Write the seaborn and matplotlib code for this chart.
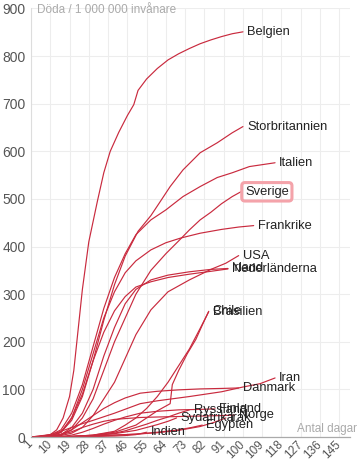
import matplotlib
matplotlib.use("Agg")
import matplotlib.pyplot as plt
import seaborn as sns
import pandas as pd

# ---- data (days since start, deaths per million) ----
belgien_d = [1, 5, 10, 13, 16, 19, 21, 23, 25, 28, 32, 35, 38, 42, 46, 49, 51, 55, 60, 65, 70, 75, 80, 85, 90, 95, 100]
belgien_v = [0, 1, 5, 15, 40, 85, 140, 225, 310, 410, 495, 555, 600, 640, 675, 698, 728, 752, 774, 792, 805, 816, 826, 834, 841, 847, 851]
uk_d = [1, 10, 15, 20, 25, 30, 35, 40, 45, 51, 57, 61, 66, 72, 80, 88, 95, 100]
uk_v = [0, 2, 10, 35, 85, 160, 245, 320, 380, 432, 465, 492, 526, 561, 597, 618, 639, 652]
italien_d = [1, 10, 15, 20, 25, 30, 35, 40, 45, 50, 57, 64, 72, 80, 88, 95, 103, 115]
italien_v = [0, 4, 15, 50, 110, 190, 270, 335, 385, 425, 456, 477, 505, 526, 545, 555, 568, 576]
sverige_d = [1, 10, 15, 20, 25, 30, 35, 40, 45, 50, 57, 64, 70, 75, 80, 85, 90, 95, 99]
sverige_v = [0, 1, 4, 15, 40, 80, 140, 200, 250, 300, 350, 385, 412, 435, 456, 472, 490, 505, 515]
frankrike_d = [1, 10, 15, 20, 25, 30, 35, 40, 45, 50, 57, 64, 71, 80, 90, 98, 105]
frankrike_v = [0, 2, 10, 40, 100, 175, 250, 305, 345, 370, 393, 408, 418, 428, 436, 441, 444]
usa_d = [1, 10, 15, 20, 25, 30, 35, 40, 45, 50, 57, 65, 75, 85, 92, 98]
usa_v = [0, 1, 3, 8, 20, 45, 80, 115, 165, 215, 267, 305, 330, 352, 365, 381]
irland_d = [1, 10, 15, 20, 25, 30, 35, 40, 45, 50, 57, 65, 75, 85, 93]
irland_v = [0, 1, 5, 20, 50, 100, 170, 230, 280, 310, 330, 340, 347, 352, 354]
nl_d = [1, 10, 15, 20, 25, 30, 35, 40, 45, 50, 57, 65, 75, 85, 93]
nl_v = [0, 2, 10, 40, 90, 160, 220, 265, 295, 315, 326, 335, 342, 348, 353]
chile_d = [1, 20, 30, 40, 50, 55, 60, 66, 67, 70, 74, 78, 81, 84]
chile_v = [0, 1, 4, 10, 25, 40, 55, 70, 110, 140, 175, 205, 235, 264]
brasil_d = [1, 20, 30, 40, 45, 50, 55, 60, 65, 70, 75, 80, 84]
brasil_v = [0, 1, 4, 12, 25, 40, 60, 85, 115, 150, 185, 228, 263]
iran_d = [1, 10, 15, 20, 25, 30, 40, 52, 60, 75, 90, 100, 108, 115]
iran_v = [0, 5, 12, 20, 28, 35, 50, 70, 76, 85, 95, 105, 112, 124]
danmark_d = [1, 10, 15, 20, 25, 30, 35, 40, 45, 52, 60, 70, 80, 90, 98]
danmark_v = [0, 2, 6, 15, 30, 45, 60, 72, 82, 92, 96, 99, 101, 102, 103]
finland_d = [1, 15, 20, 25, 30, 35, 40, 45, 52, 60, 70, 80, 87]
finland_v = [0, 1, 4, 10, 18, 27, 35, 42, 50, 54, 57, 58, 59]
ryssland_d = [1, 20, 30, 40, 45, 50, 55, 60, 65, 70, 75]
ryssland_v = [0, 1, 3, 8, 13, 20, 27, 35, 42, 50, 57]
norge_d = [1, 10, 15, 20, 25, 30, 35, 40, 52, 60, 70, 80, 90, 96]
norge_v = [0, 2, 5, 11, 20, 27, 33, 37, 41, 42, 43, 44, 45, 46]
sydafrika_d = [1, 20, 30, 40, 50, 55, 60, 65, 69]
sydafrika_v = [0, 1, 3, 7, 14, 20, 26, 33, 40]
irak_d = [1, 20, 30, 40, 50, 60, 70, 80, 86, 92]
irak_v = [0, 1, 2, 4, 6, 9, 14, 22, 30, 40]
egypten_d = [1, 20, 30, 40, 50, 60, 70, 76, 81]
egypten_v = [0, 1, 2, 4, 6, 10, 15, 20, 25]
indien_d = [1, 20, 30, 40, 45, 50, 55]
indien_v = [0, 0.5, 1, 2, 3, 5, 10]

series = [
    ("Belgien", belgien_d, belgien_v),
    ("Storbritannien", uk_d, uk_v),
    ("Italien", italien_d, italien_v),
    ("Sverige", sverige_d, sverige_v),
    ("Frankrike", frankrike_d, frankrike_v),
    ("USA", usa_d, usa_v),
    ("Irland", irland_d, irland_v),
    ("Nederländerna", nl_d, nl_v),
    ("Chile", chile_d, chile_v),
    ("Brasilien", brasil_d, brasil_v),
    ("Iran", iran_d, iran_v),
    ("Danmark", danmark_d, danmark_v),
    ("Finland", finland_d, finland_v),
    ("Ryssland", ryssland_d, ryssland_v),
    ("Norge", norge_d, norge_v),
    ("Sydafrika", sydafrika_d, sydafrika_v),
    ("Irak", irak_d, irak_v),
    ("Egypten", egypten_d, egypten_v),
    ("Indien", indien_d, indien_v),
]

x_ticks = list(range(1, 150, 9))
y_ticks = list(range(0, 901, 100))

rows = []
for name, d, v in series:
    for dd, vv in zip(d, v):
        rows.append({"land": name, "dag": dd, "doda": vv})
df = pd.DataFrame(rows)

sns.set_theme(style="whitegrid")
plt.rcParams["font.family"] = ["Liberation Sans", "DejaVu Sans"]

fig = plt.figure(figsize=(3.59, 4.65), dpi=100)
ax = fig.add_axes([31 / 359, 1 - 437 / 465, (350 - 31) / 359, (437 - 8.5) / 465])

red = "#c92a3e"
names = [s[0] for s in series]
sns.lineplot(data=df, x="dag", y="doda", hue="land", hue_order=names,
             palette=[red] * len(names), legend=False, linewidth=0.85,
             estimator=None, sort=False, ax=ax)

ax.set_xlim(1, 150)
ax.set_ylim(0, 900)
ax.set_xticks(x_ticks)
ax.set_yticks(y_ticks)
ax.set_xticklabels([str(t) for t in x_ticks], rotation=45, ha="right",
                   va="center", rotation_mode="anchor", fontsize=8.5, color="#555555")
ax.set_yticklabels([str(t) for t in y_ticks], fontsize=10, color="#555555")
ax.tick_params(axis="x", pad=4, length=0)
ax.tick_params(axis="y", pad=4, length=0)
ax.set_xlabel("")
ax.set_ylabel("")
ax.grid(True, color="#ededed", linewidth=0.8)
ax.set_facecolor("white")
for s in ["top", "right"]:
    ax.spines[s].set_visible(False)
ax.spines["left"].set_color("#dddddd")
ax.spines["left"].set_linewidth(0.8)
ax.spines["bottom"].set_color("#aaaaaa")
ax.spines["bottom"].set_linewidth(0.9)

for name, d, v in series:
    kw = {}
    if name == "Sverige":
        kw["bbox"] = dict(boxstyle="round,pad=0.25", fc="none", ec="#f4a3aa", lw=2.2)
    ax.annotate(name, xy=(d[-1], v[-1]), xytext=(3, 0), textcoords="offset points",
                va="center", ha="left", fontsize=9.3, color="#222222", zorder=5,
                annotation_clip=False, **kw)

fig.text(37 / 359, 1 - 10 / 465, "Döda / 1 000 000 invånare", fontsize=8.5,
         color="#aaaaaa", va="center", ha="left")
fig.text(357 / 359, 1 - 429 / 465, "Antal dagar", fontsize=8.5,
         color="#aaaaaa", va="center", ha="right")

fig.savefig("out.png", dpi=100, facecolor="white")
